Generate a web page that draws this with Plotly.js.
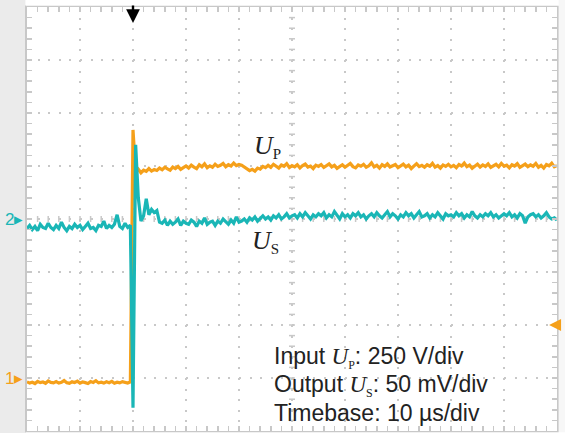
<!DOCTYPE html>
<html>
<head>
<meta charset="utf-8">
<script src="https://cdn.plot.ly/plotly-3.0.1.min.js"></script>
<style>html,body{margin:0;padding:0;background:#fff;}#chart{width:565px;height:433px;}</style>
</head>
<body>
<div id="chart"></div>
<script>
// Timebase: samples every 0.5 µs starting at -20 µs (trigger at t = 0)
const sampleStart = -20;   // µs
const sampleStep = 0.5;    // µs

// Input U_P (V), 250 V/div, channel 1 ground 3 div below centre
const upPre = [-18,-24,-20,-26,-16,-22,-19,-25,-14,-21,
               -23,-17,-24,-20,-12,-22,-25,-18,-21,-15,
               -24,-19,-22,-26,-17,-21,-13,-23,-20,-24,
               -18,-22,-16,-25,-20,-23,-17,-21,-24,-19];
const upEdge = [1170];
const upPost = [972,985,968,980,975,988,976,983,979,990,
                982,994,986,980,995,988,998,984,992,1000,
                990,1004,995,988,1006,996,1010,992,1001,994,
                1008,998,1003,1012,996,1006,1000,1014,1002,1007,
                1004,995,988,978,984,976,990,985,998,992,
                1003,994,1008,997,990,1005,999,1011,993,1002,
                996,1006,991,1002,1009,995,1000,988,1004,998,
                1007,993,1001,1010,996,1003,989,1000,1006,994,
                1002,1012,997,991,1005,999,1008,994,1001,1015,
                996,1003,990,1006,998,1010,995,1002,1007,992,
                1000,1009,996,1004,988,1001,1011,997,1003,994,
                1006,999,1013,995,1002,990,1005,998,1008,996,
                1003,992,1007,1000,1014,997,1004,989,1001,1009,
                995,1005,998,1010,993,1002,1008,996,1012,999,
                1004,991,1006,1000,1011,994,1003,1009,997,1005,
                999,1012,994,1003,990,1007,1001,1013,996,1002];

// Output U_S (mV), 50 mV/div, channel 2 ground at centre
const usPre = [-9,-6,-10,-7,-11,-5,-8,-9,-4,-8,
               -10,-6,-9,-3,-8,-11,-7,-9,-5,-8,
               -6,-10,-7,-4,-9,-8,-11,-6,-7,-2,
               -9,-6,-8,-5,4,-7,-9,-4,-8,-6];
const usEdge = [-178];
const usPost = [70,20,-2,3,19,4,9,6,8,-3,
                -4,-1,-6,-2,-5,-3,0,-6,-2,-4,
                -5,-1,-3,-7,-2,-4,1,-5,-3,-2,
                -6,-2,-4,0,-3,-5,-1,-4,2,-3,
                -2,0,-3,1,-1,2,-2,1,3,0,
                2,-1,3,1,4,0,2,5,1,3,
                4,1,5,2,6,3,0,4,2,5,
                3,6,1,4,2,7,3,0,5,2,
                4,1,5,3,6,2,4,0,3,5,
                2,6,3,1,4,7,2,5,3,0,
                4,2,6,3,5,1,4,7,2,3,
                5,1,4,2,6,3,0,5,3,4,
                2,6,3,5,1,4,2,7,3,1,
                4,2,5,3,6,2,4,1,3,5,
                3,6,2,4,1,5,3,-4,2,4,
                5,2,4,1,3,6,2,0,1,-1];

const xRange = [-20, 80];          // 10 div x 10 µs
const upRange = [-250, 1750];      // 8 div x 250 V
const usRange = [-200, 200];       // 8 div x 50 mV
const triggerLevel = 250;          // V

const orange = '#f5a01a';
const cyan = '#1ab6b6';
const gridGray = '#c8c8c8';
const borderGray = '#c8c8c8';

const upValues = upPre.concat(upEdge, upPost);
const usValues = usPre.concat(usEdge, usPost);

const traces = [
  {type:'scatter', mode:'lines', x0:sampleStart, dx:sampleStep, y:upValues,
   yaxis:'y', line:{color:orange, width:3.2}, hoverinfo:'skip', showlegend:false},
  {type:'scatter', mode:'lines', x0:sampleStart, dx:sampleStep, y:usValues,
   yaxis:'y2', line:{color:cyan, width:3.2}, hoverinfo:'skip', showlegend:false}
];

// graticule decorations: white margins over the grey paper, centre-axis tick marks
const shapes = [
  {type:'rect', xref:'paper', yref:'paper', x0:-0.003, x1:1.05, y0:1.003, y1:1.05,
   fillcolor:'#ffffff', line:{width:0}, layer:'above'},
  {type:'rect', xref:'paper', yref:'paper', x0:1.003, x1:1.05, y0:-0.05, y1:1.05,
   fillcolor:'#f7f7f7', line:{width:0}, layer:'above'},
  {type:'rect', xref:'paper', yref:'paper', x0:-0.003, x1:1.05, y0:-0.05, y1:-0.003,
   fillcolor:'#ffffff', line:{width:0}, layer:'above'}
];
const xMid = (xRange[0] + xRange[1]) / 2;
const yMid = (upRange[0] + upRange[1]) / 2;
const xMinor = (xRange[1] - xRange[0]) / 50;
const yMinor = (upRange[1] - upRange[0]) / 40;
for (let k = 1; k < 50; k++) {
  const xv = xRange[0] + k * xMinor;
  shapes.push({type:'line', xref:'x', yref:'y', ysizemode:'pixel', yanchor:yMid,
    x0:xv, x1:xv, y0:-3, y1:3, line:{color:borderGray, width:1.5}, layer:'below'});
}
for (let k = 1; k < 40; k++) {
  const yv = upRange[0] + k * yMinor;
  shapes.push({type:'line', xref:'x', yref:'y', xsizemode:'pixel', xanchor:xMid,
    x0:-3, x1:3, y0:yv, y1:yv, line:{color:borderGray, width:1.5}, layer:'below'});
}

const serif = 'font-family:Liberation Serif';
const annotations = [
  {xref:'paper', yref:'y2', x:-0.004, y:0, xanchor:'right', yanchor:'middle',
   text:'2▸', showarrow:false, font:{family:'Liberation Sans', size:17, color:cyan}},
  {xref:'paper', yref:'y', x:-0.004, y:0, xanchor:'right', yanchor:'middle',
   text:'1▸', showarrow:false, font:{family:'Liberation Sans', size:17, color:orange}},
  {xref:'x', yref:'paper', x:0, y:0.962, showarrow:true, ax:0, ay:-19, text:'',
   arrowhead:2, arrowsize:1.15, arrowwidth:2.4, arrowcolor:'#000'},
  {xref:'paper', yref:'y', x:0.985, y:triggerLevel, showarrow:true, ax:10, ay:0, text:'',
   arrowhead:2, arrowsize:1.2, arrowwidth:2, arrowcolor:orange},
  {xref:'paper', yref:'paper', x:0.425, y:0.672, xanchor:'left', yanchor:'middle', showarrow:false,
   text:'<span style="'+serif+'"><i>U</i><sub><span style="font-size:15px">P</span></sub></span>',
   font:{family:'Liberation Serif', size:26, color:'#222'}},
  {xref:'paper', yref:'paper', x:0.42, y:0.446, xanchor:'left', yanchor:'middle', showarrow:false,
   text:'<span style="'+serif+'"><i>U</i><sub><span style="font-size:15px">S</span></sub></span>',
   font:{family:'Liberation Serif', size:26, color:'#222'}},
  {xref:'paper', yref:'paper', x:0.462, y:0.1745, xanchor:'left', yanchor:'middle', showarrow:false,
   text:'Input <span style="'+serif+'"><i>U</i><sub><span style="font-size:12px">P</span></sub></span>: 250 V/div',
   font:{family:'Liberation Sans', size:23, color:'#222'}},
  {xref:'paper', yref:'paper', x:0.462, y:0.108, xanchor:'left', yanchor:'middle', showarrow:false,
   text:'Output <span style="'+serif+'"><i>U</i><sub><span style="font-size:12px">S</span></sub></span>: 50 mV/div',
   font:{family:'Liberation Sans', size:23, color:'#222'}},
  {xref:'paper', yref:'paper', x:0.462, y:0.0425, xanchor:'left', yanchor:'middle', showarrow:false,
   text:'Timebase: 10 µs/div',
   font:{family:'Liberation Sans', size:23, color:'#222'}}
];

const axisCommon = {
  showline:true, linecolor:borderGray, linewidth:2, mirror:'ticks',
  ticks:'inside', ticklen:5, tickwidth:1.5, tickcolor:borderGray,
  showticklabels:false, showgrid:true, gridcolor:gridGray, gridwidth:2,
  griddash:'2px,8.6px', zeroline:false, fixedrange:true
};

const layout = {
  width:565, height:433,
  margin:{l:27, r:8, t:7, b:2},
  paper_bgcolor:'#ebebeb', plot_bgcolor:'#ffffff',
  showlegend:false,
  xaxis:Object.assign({}, axisCommon, {range:xRange, tick0:xRange[0], dtick:10,
    minor:{tick0:xRange[0], dtick:2, ticks:'inside', ticklen:5, tickcolor:borderGray, showgrid:false}}),
  yaxis:Object.assign({}, axisCommon, {range:upRange, tick0:upRange[0], dtick:250,
    minor:{tick0:upRange[0], dtick:50, ticks:'inside', ticklen:5, tickcolor:borderGray, showgrid:false}}),
  yaxis2:{overlaying:'y', range:usRange, showgrid:false, showline:false, zeroline:false,
    showticklabels:false, ticks:'', fixedrange:true},
  shapes:shapes,
  annotations:annotations
};

Plotly.newPlot('chart', traces, layout, {staticPlot:true, displayModeBar:false});
</script>
</body>
</html>
